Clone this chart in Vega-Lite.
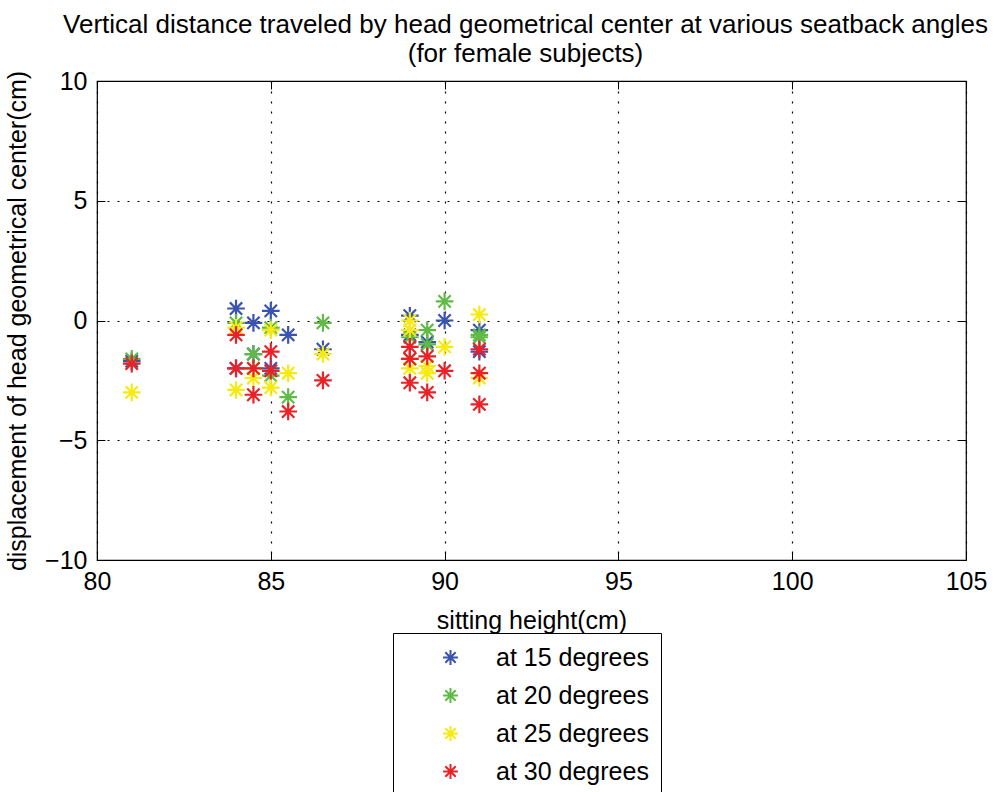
{
  "$schema": "https://vega.github.io/schema/vega-lite/v6.json",
  "autosize": "none",
  "padding": {"left": 97, "top": 81, "right": 29, "bottom": 232},
  "width": 869,
  "height": 479,
  "background": "white",
  "title": {
    "text": ["Vertical distance traveled by head geometrical center at various seatback angles", "(for female subjects)"],
    "font": "Liberation Sans",
    "fontSize": 26,
    "fontWeight": "normal",
    "color": "black",
    "anchor": "middle",
    "lineHeight": 29,
    "offset": 2,
    "dx": -6
  },
  "config": {
    "view": {"stroke": "black", "strokeWidth": 1.2},
    "font": "Liberation Sans"
  },
  "data": {
    "values": [
      {"h": 81, "d": -1.7, "angle": "at 15 degrees"},
      {"h": 84, "d": 0.5, "angle": "at 15 degrees"},
      {"h": 84, "d": -2.0, "angle": "at 15 degrees"},
      {"h": 84.5, "d": -0.1, "angle": "at 15 degrees"},
      {"h": 84.5, "d": -1.4, "angle": "at 15 degrees"},
      {"h": 85, "d": 0.4, "angle": "at 15 degrees"},
      {"h": 85, "d": -2.0, "angle": "at 15 degrees"},
      {"h": 85.5, "d": -0.6, "angle": "at 15 degrees"},
      {"h": 86.5, "d": -1.2, "angle": "at 15 degrees"},
      {"h": 89, "d": 0.2, "angle": "at 15 degrees"},
      {"h": 89, "d": -0.6, "angle": "at 15 degrees"},
      {"h": 89.5, "d": -0.9, "angle": "at 15 degrees"},
      {"h": 90, "d": 0.0, "angle": "at 15 degrees"},
      {"h": 91, "d": -0.4, "angle": "at 15 degrees"},
      {"h": 91, "d": -1.3, "angle": "at 15 degrees"},
      {"h": 81, "d": -1.6, "angle": "at 20 degrees"},
      {"h": 84, "d": -0.1, "angle": "at 20 degrees"},
      {"h": 84.5, "d": -1.4, "angle": "at 20 degrees"},
      {"h": 84.5, "d": -2.0, "angle": "at 20 degrees"},
      {"h": 85, "d": -0.3, "angle": "at 20 degrees"},
      {"h": 85, "d": -2.3, "angle": "at 20 degrees"},
      {"h": 85.5, "d": -3.2, "angle": "at 20 degrees"},
      {"h": 86.5, "d": -0.1, "angle": "at 20 degrees"},
      {"h": 89, "d": -0.7, "angle": "at 20 degrees"},
      {"h": 89, "d": -1.6, "angle": "at 20 degrees"},
      {"h": 89.5, "d": -0.4, "angle": "at 20 degrees"},
      {"h": 89.5, "d": -1.0, "angle": "at 20 degrees"},
      {"h": 90, "d": 0.8, "angle": "at 20 degrees"},
      {"h": 91, "d": -0.6, "angle": "at 20 degrees"},
      {"h": 91, "d": -0.7, "angle": "at 20 degrees"},
      {"h": 81, "d": -3.0, "angle": "at 25 degrees"},
      {"h": 84, "d": -0.3, "angle": "at 25 degrees"},
      {"h": 84, "d": -2.9, "angle": "at 25 degrees"},
      {"h": 84.5, "d": -2.4, "angle": "at 25 degrees"},
      {"h": 85, "d": -0.4, "angle": "at 25 degrees"},
      {"h": 85, "d": -2.8, "angle": "at 25 degrees"},
      {"h": 85.5, "d": -2.2, "angle": "at 25 degrees"},
      {"h": 86.5, "d": -1.4, "angle": "at 25 degrees"},
      {"h": 89, "d": 0.0, "angle": "at 25 degrees"},
      {"h": 89, "d": -0.4, "angle": "at 25 degrees"},
      {"h": 89, "d": -2.0, "angle": "at 25 degrees"},
      {"h": 89.5, "d": -1.9, "angle": "at 25 degrees"},
      {"h": 89.5, "d": -2.2, "angle": "at 25 degrees"},
      {"h": 90, "d": -1.1, "angle": "at 25 degrees"},
      {"h": 91, "d": 0.25, "angle": "at 25 degrees"},
      {"h": 91, "d": -2.4, "angle": "at 25 degrees"},
      {"h": 81, "d": -1.8, "angle": "at 30 degrees"},
      {"h": 84, "d": -0.6, "angle": "at 30 degrees"},
      {"h": 84, "d": -2.0, "angle": "at 30 degrees"},
      {"h": 84.5, "d": -2.0, "angle": "at 30 degrees"},
      {"h": 84.5, "d": -3.1, "angle": "at 30 degrees"},
      {"h": 85, "d": -1.3, "angle": "at 30 degrees"},
      {"h": 85, "d": -2.1, "angle": "at 30 degrees"},
      {"h": 85.5, "d": -3.8, "angle": "at 30 degrees"},
      {"h": 86.5, "d": -2.5, "angle": "at 30 degrees"},
      {"h": 89, "d": -1.1, "angle": "at 30 degrees"},
      {"h": 89, "d": -1.6, "angle": "at 30 degrees"},
      {"h": 89, "d": -2.6, "angle": "at 30 degrees"},
      {"h": 89.5, "d": -1.5, "angle": "at 30 degrees"},
      {"h": 89.5, "d": -3.0, "angle": "at 30 degrees"},
      {"h": 90, "d": -2.1, "angle": "at 30 degrees"},
      {"h": 91, "d": -1.2, "angle": "at 30 degrees"},
      {"h": 91, "d": -2.2, "angle": "at 30 degrees"},
      {"h": 91, "d": -3.5, "angle": "at 30 degrees"}
    ]
  },
  "resolve": {"axis": {"x": "independent", "y": "independent"}},
  "layer": [
    {
      "mark": {
        "type": "point",
        "shape": "M-1,0H1M0,-1V1M-0.7,-0.7L0.7,0.7M-0.7,0.7L0.7,-0.7",
        "filled": false,
        "strokeWidth": 2.2,
        "size": 310,
        "opacity": 1
      },
      "encoding": {
        "x": {
          "field": "h",
          "type": "quantitative",
          "scale": {"domain": [80, 105], "nice": false, "zero": false},
          "axis": {
            "orient": "bottom",
            "values": [80, 85, 90, 95, 100, 105],
            "title": "sitting height(cm)",
            "titleFont": "Liberation Sans",
            "titleFontSize": 25,
            "titleFontWeight": "normal",
            "titleColor": "black",
            "titlePadding": 14,
            "labelFont": "Liberation Sans",
            "labelFontSize": 25,
            "labelColor": "black",
            "labelPadding": 17,
            "labelFlush": false,
            "domain": false,
            "ticks": true,
            "tickSize": -8,
            "tickColor": "black",
            "grid": true,
            "gridColor": "black",
            "gridDash": [2, 8],
            "gridWidth": 1.2,
            "gridOpacity": 1
          }
        },
        "y": {
          "field": "d",
          "type": "quantitative",
          "scale": {"domain": [-10, 10], "nice": false, "zero": false},
          "axis": {
            "orient": "left",
            "values": [-10, -5, 0, 5, 10],
            "title": "displacement of head geometrical center(cm)",
            "titleFont": "Liberation Sans",
            "titleFontSize": 25,
            "titleFontWeight": "normal",
            "titleColor": "black",
            "titlePadding": 14,
            "labelFont": "Liberation Sans",
            "labelFontSize": 25,
            "labelColor": "black",
            "labelPadding": 18,
            "labelFlush": false,
            "domain": false,
            "ticks": true,
            "tickSize": -8,
            "tickColor": "black",
            "grid": true,
            "gridColor": "black",
            "gridDash": [2, 8],
            "gridWidth": 1.2,
            "gridOpacity": 1
          }
        },
        "color": {
          "field": "angle",
          "type": "nominal",
          "scale": {
            "domain": ["at 15 degrees", "at 20 degrees", "at 25 degrees", "at 30 degrees"],
            "range": ["#3a52b0", "#5fbb46", "#f7ea10", "#ea2228"]
          },
          "legend": {
            "orient": "none",
            "legendX": 296,
            "legendY": 552,
            "title": null,
            "strokeColor": "black",
            "fillColor": "white",
            "padding": 12,
            "symbolOffset": 33,
            "symbolSize": 220,
            "symbolStrokeWidth": 2,
            "labelOffset": 33,
            "labelFont": "Liberation Sans",
            "labelFontSize": 25,
            "labelColor": "black",
            "rowPadding": 12,
            "labelLimit": 400
          }
        }
      }
    },
    {
      "mark": {"type": "point", "opacity": 0},
      "encoding": {
        "x": {
          "field": "h",
          "type": "quantitative",
          "axis": {
            "orient": "top",
            "values": [80, 85, 90, 95, 100, 105],
            "labels": false,
            "title": null,
            "domain": false,
            "grid": false,
            "ticks": true,
            "tickSize": -8,
            "tickColor": "black"
          }
        },
        "y": {
          "field": "d",
          "type": "quantitative",
          "axis": {
            "orient": "right",
            "values": [-10, -5, 0, 5, 10],
            "labels": false,
            "title": null,
            "domain": false,
            "grid": false,
            "ticks": true,
            "tickSize": -8,
            "tickColor": "black"
          }
        }
      }
    }
  ]
}
